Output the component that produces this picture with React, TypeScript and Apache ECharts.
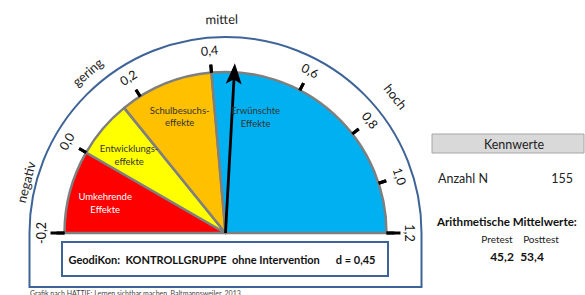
import React, { useEffect, useRef } from 'react';
import * as echarts from 'echarts';

// ---------- data ----------
const tickValues = [-0.2, 0, 0.2, 0.4, 0.6, 0.8, 1.0, 1.2];
const zoneBounds = [-0.2, 0, 0.15, 0.4, 1.2];
const zoneNames = ['Umkehrende\nEffekte', 'Entwicklungs-\neffekte', 'Schulbesuchs-\neffekte', 'Erwünschte\nEffekte'];
const levelNames = ['negativ', 'gering', 'mittel', 'hoch'];
const effectD = 0.45;
const groupTitle = 'GeodiKon:  KONTROLLGRUPPE  ohne Intervention';
const panelTitle = 'Kennwerte';
const sampleLabel = 'Anzahl N';
const sampleN = 155;
const meansTitle = 'Arithmetische Mittelwerte:';
const testLabels = ['Pretest', 'Posttest'];
const testMeans = [45.2, 53.4];
const creditText = 'Grafik nach HATTIE: Lernen sichtbar machen, Baltmannsweiler, 2013';

// ---------- layout / style ----------
const CX = 225.5;
const CY = 233;
const R = 161;
const tickAngles = [180, 150, 122, 95, 62.5, 38, 18, 0];
const zoneColors = ['#ff0000', '#ffff00', '#ffc000', '#00b0f0'];
const zoneLabelColors = ['#ffffff', '#333333', '#333333', '#333333'];
const zoneLabelPolar = [[166, 124], [141, 124], [111.5, 125], [75.5, 120]];
const levelPolar = [[165.7, 206], [130.6, 212], [91, 214], [38.7, 218]];
const FONT = 'Lato, "Noto Sans", sans-serif';
const FRAME = '#3e6497';

const fmt = (v: number, d = 1) => v.toFixed(d).replace('.', ',');

function angleOf(v: number): number {
  for (let i = 0; i < tickValues.length - 1; i++) {
    if (v >= tickValues[i] - 1e-9 && v <= tickValues[i + 1] + 1e-9) {
      const t = (v - tickValues[i]) / (tickValues[i + 1] - tickValues[i]);
      return tickAngles[i] + t * (tickAngles[i + 1] - tickAngles[i]);
    }
  }
  return v < tickValues[0] ? tickAngles[0] : tickAngles[tickAngles.length - 1];
}

function polar(angDeg: number, r: number) {
  const a = (angDeg * Math.PI) / 180;
  return [CX + r * Math.cos(a), CY - r * Math.sin(a)];
}

export default function App() {
  const ref = useRef<HTMLDivElement>(null);

  useEffect(() => {
    if (!ref.current) return;
    const chart = echarts.init(ref.current, undefined, { renderer: 'svg' });

    const pieData: any[] = [];
    for (let i = 0; i < zoneBounds.length - 1; i++) {
      pieData.push({
        name: zoneNames[i],
        value: angleOf(zoneBounds[i]) - angleOf(zoneBounds[i + 1]),
        itemStyle: { color: zoneColors[i], borderColor: '#7f7f7f', borderWidth: 2.5 },
      });
    }
    pieData.push({
      name: 'rest',
      value: 180,
      itemStyle: { color: 'rgba(0,0,0,0)', borderWidth: 0 },
    });

    const series: any[] = [
      {
        type: 'pie',
        center: [CX, CY],
        radius: [0, R],
        startAngle: 180,
        clockwise: true,
        silent: true,
        label: { show: false },
        labelLine: { show: false },
        emphasis: { disabled: true },
        data: pieData,
        z: 2,
      },
    ];

    const common = {
      type: 'gauge',
      center: [CX, CY],
      splitNumber: 1,
      axisLine: { show: false, lineStyle: { width: 0 } },
      axisTick: { show: false },
      progress: { show: false },
      anchor: { show: false },
      title: { show: false },
      detail: { show: false },
      silent: true,
      z: 4,
    };

    for (let i = 0; i < tickValues.length - 1; i++) {
      const hasD = effectD >= tickValues[i] && effectD < tickValues[i + 1];
      const segStart = tickValues[i];
      series.push({
        ...common,
        radius: R + 8,
        startAngle: tickAngles[i],
        endAngle: tickAngles[i + 1],
        min: tickValues[i],
        max: tickValues[i + 1],
        splitLine: { show: true, length: 8, distance: 0, lineStyle: { color: '#000', width: 3 } },
        axisLabel: {
          show: true,
          distance: -22,
          rotate: 'tangential',
          color: '#111',
          fontSize: 12.5,
          fontFamily: FONT,
          formatter: (v: number) => (i > 0 && Math.abs(v - segStart) < 1e-9 ? fmt(v) : ''),
        },
        pointer: {
          show: hasD,
          icon: 'path://M6.6 170 L9.4 170 L9.4 17 L16 21 L8 0 L0 21 L6.6 17 Z',
          length: 170,
          width: 16,
          offsetCenter: [0, 0],
          itemStyle: { color: '#000' },
        },
        data: hasD ? [{ value: effectD }] : [],
      });
    }

    // end ticks (longer) and end labels
    const gMin = tickValues[0];
    const gMax = tickValues[tickValues.length - 1];
    series.push({
      ...common,
      radius: R + 14,
      startAngle: tickAngles[0],
      endAngle: tickAngles[tickAngles.length - 1],
      min: gMin,
      max: gMax,
      splitLine: { show: true, length: 14, distance: 0, lineStyle: { color: '#000', width: 3 } },
      axisLabel: {
        show: true,
        distance: -23,
        rotate: 'tangential',
        color: '#111',
        fontSize: 12.5,
        fontFamily: FONT,
        formatter: (v: number) => fmt(v),
      },
      pointer: { show: false },
      data: [],
    });

    const graphics: any[] = [];

    // outer frame
    graphics.push({
      id: 'frameArc',
      type: 'arc',
      shape: { cx: CX, cy: CY, r: 196, startAngle: Math.PI, endAngle: 2 * Math.PI, clockwise: true },
      style: { stroke: FRAME, lineWidth: 2, fill: 'none' },
      silent: true,
    });
    graphics.push({
      id: 'frameSides',
      type: 'polyline',
      shape: { points: [[CX - 196, CY], [CX - 196, 287], [CX + 196, 287], [CX + 196, CY]] },
      style: { stroke: FRAME, lineWidth: 2, fill: 'none' },
      silent: true,
    });

    // level names
    levelNames.forEach((name, i) => {
      const [ang, r] = levelPolar[i];
      const [x, y] = polar(ang, r);
      graphics.push({
        id: 'level' + i,
        type: 'text',
        x,
        y,
        rotation: ((ang - 90) * Math.PI) / 180,
        style: { text: name, fill: '#222', font: `13px ${FONT}`, align: 'center', verticalAlign: 'middle' },
        silent: true,
      });
    });

    // zone labels
    zoneNames.forEach((name, i) => {
      const [ang, r] = zoneLabelPolar[i];
      const [x, y] = polar(ang, r);
      graphics.push({
        id: 'zone' + i,
        type: 'text',
        x,
        y,
        z: 100,
        style: {
          text: name,
          fill: zoneLabelColors[i],
          font: `9.5px ${FONT}`,
          align: 'center',
          verticalAlign: 'middle',
          lineHeight: 12.5,
        },
        silent: true,
      });
    });

    // inner box
    graphics.push({
      id: 'box',
      type: 'rect',
      shape: { x: 62, y: 242, width: 326, height: 34 },
      style: { fill: '#fff', stroke: FRAME, lineWidth: 2 },
      silent: true,
    });
    graphics.push({
      id: 'boxText',
      type: 'text',
      x: 222,
      y: 259,
      style: {
        text: `${groupTitle}      d = ${fmt(effectD, 2)}`,
        fill: '#111',
        font: `bold 11px ${FONT}`,
        align: 'center',
        verticalAlign: 'middle',
      },
      silent: true,
    });

    // right panel
    graphics.push({
      id: 'panelBox',
      type: 'rect',
      shape: { x: 432, y: 134, width: 152, height: 19 },
      style: { fill: '#d9d9d9', stroke: '#a6a6a6', lineWidth: 1 },
      silent: true,
    });
    graphics.push({
      id: 'panelTitle',
      type: 'text',
      x: 514,
      y: 144,
      style: { text: panelTitle, fill: '#222', font: `12.5px ${FONT}`, align: 'center', verticalAlign: 'middle' },
      silent: true,
    });
    graphics.push({
      id: 'nLabel',
      type: 'text',
      x: 438,
      y: 178,
      style: { text: sampleLabel, fill: '#222', font: `12.5px ${FONT}`, align: 'left', verticalAlign: 'middle' },
      silent: true,
    });
    graphics.push({
      id: 'nValue',
      type: 'text',
      x: 573,
      y: 178,
      style: { text: String(sampleN), fill: '#222', font: `12.5px ${FONT}`, align: 'right', verticalAlign: 'middle' },
      silent: true,
    });
    graphics.push({
      id: 'meansTitle',
      type: 'text',
      x: 437,
      y: 221,
      style: { text: meansTitle, fill: '#111', font: `bold 11.6px ${FONT}`, align: 'left', verticalAlign: 'middle' },
      silent: true,
    });
    const colX = [497, 541];
    testLabels.forEach((t, i) => {
      graphics.push({
        id: 'testLabel' + i,
        type: 'text',
        x: colX[i],
        y: 239,
        style: { text: t, fill: '#222', font: `10px ${FONT}`, align: 'center', verticalAlign: 'middle' },
        silent: true,
      });
      graphics.push({
        id: 'testMean' + i,
        type: 'text',
        x: colX[i] + (i === 0 ? 5 : -9),
        y: 256,
        style: { text: fmt(testMeans[i]), fill: '#111', font: `bold 12px ${FONT}`, align: 'center', verticalAlign: 'middle' },
        silent: true,
      });
    });

    // credit
    graphics.push({
      id: 'credit',
      type: 'text',
      x: 30,
      y: 289,
      style: { text: creditText, fill: '#444', font: `7px ${FONT}`, align: 'left', verticalAlign: 'top' },
      silent: true,
    });

    chart.setOption({
      animation: false,
      backgroundColor: '#ffffff',
      series,
      graphic: { elements: graphics },
    });

    return () => chart.dispose();
  }, []);

  return (
    <div
      ref={ref}
      style={{ position: 'fixed', left: 0, top: 0, width: 585, height: 295, background: '#fff' }}
    />
  );
}
